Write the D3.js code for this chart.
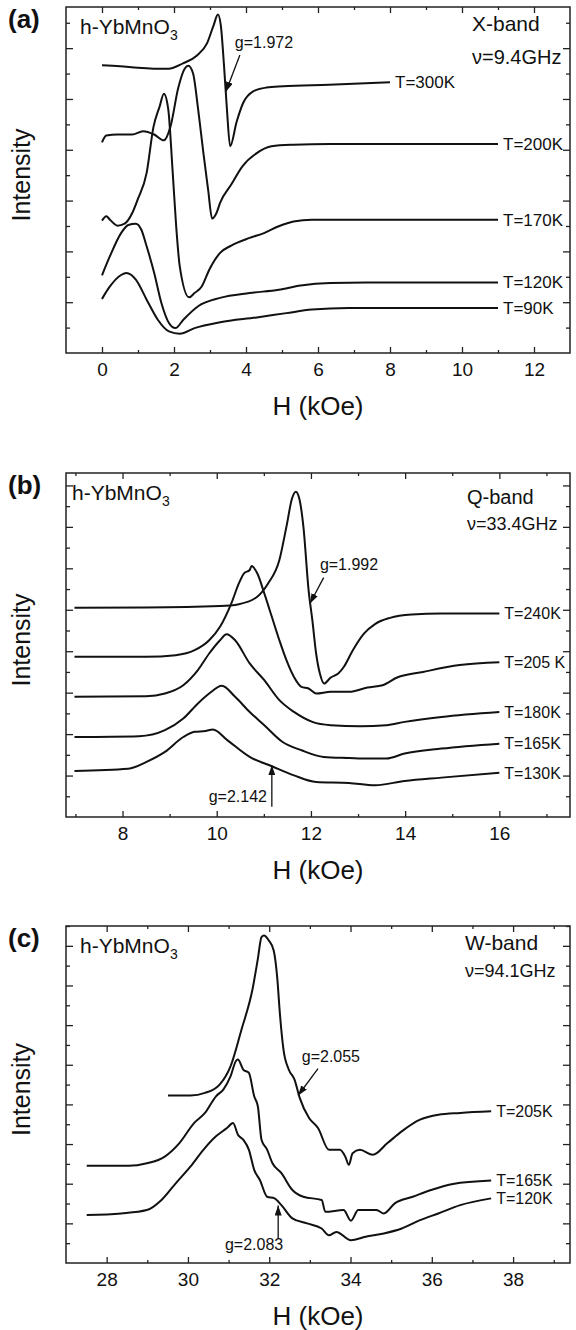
<!DOCTYPE html>
<html>
<head>
<meta charset="utf-8">
<script src="https://cdn.jsdelivr.net/npm/d3@7"></script>
<style>
body { margin: 0; background: #fff; }
svg text { font-family: "Liberation Sans", Arial, Helvetica, sans-serif; fill: #111; }
</style>
</head>
<body>
<svg id="fig" width="576" height="1330"></svg>
<script>
// ---- (a) X-band, H in kOe, intensity in arbitrary units (1 unit = 1 tick)
var xb300 = [[0,11.33],[0.5,11.29],[1,11.23],[1.5,11.19],[1.85,11.19],[2.25,11.4],[2.63,11.7],[2.92,12.2],[3.1,12.9],[3.22,13.32],[3.3,12.9],[3.39,11.3],[3.47,9.6],[3.56,8.14],[3.74,9.1],[3.92,9.84],[4.2,10.3],[4.57,10.45],[5.03,10.5],[6.3,10.56],[8,10.66]];
var xb200 = [[0,8.29],[0.12,8.56],[0.43,8.6],[0.84,8.6],[1.14,8.73],[1.45,8.6],[1.72,8.37],[1.9,8.9],[2.12,10.45],[2.3,11.2],[2.4,11.31],[2.53,11.0],[2.67,9.6],[2.81,7.95],[2.95,6.4],[3.06,5.29],[3.18,5.51],[3.28,5.91],[3.59,6.63],[3.9,7.35],[4.3,7.87],[4.71,8.14],[5.32,8.2],[6.34,8.23],[11,8.23]];
var xb170 = [[0,5.21],[0.12,5.38],[0.22,5.25],[0.43,5.01],[0.63,5.09],[0.84,5.51],[0.99,6.04],[1.24,7.09],[1.43,8.9],[1.6,9.7],[1.72,10.21],[1.84,9.6],[1.96,7.2],[2.06,5.0],[2.16,3.41],[2.42,2.19],[2.57,2.36],[2.77,2.62],[2.98,3.28],[3.28,3.94],[3.59,4.23],[4.1,4.53],[4.5,4.72],[4.91,4.99],[5.32,5.18],[5.83,5.25],[11,5.25]];
var xb120 = [[0,3.06],[0.22,3.81],[0.53,4.72],[0.73,5.04],[0.94,5.09],[1.09,4.86],[1.24,4.2],[1.45,3.15],[1.65,1.97],[1.86,1.18],[2.04,0.98],[2.26,1.31],[2.67,1.84],[3.28,2.17],[4.1,2.36],[4.91,2.49],[5.52,2.66],[6.34,2.76],[7.36,2.78],[11,2.78]];
var xb90 = [[0,2.13],[0.22,2.62],[0.53,3.07],[0.68,3.15],[0.94,2.89],[1.24,2.1],[1.55,1.31],[1.86,0.85],[2.16,0.76],[2.57,0.98],[3.28,1.21],[4.3,1.4],[5.12,1.57],[5.83,1.71],[6.85,1.77],[11,1.77]];
var xbLabels = ["T=300K","T=200K","T=170K","T=120K","T=90K"];

// ---- (b) Q-band
var qb240 = [[6.98,10.1],[8.5,10.11],[10.07,10.18],[10.47,10.27],[10.86,10.63],[11.09,11.27],[11.33,12.4],[11.48,14.01],[11.6,15.38],[11.68,15.7],[11.76,15.3],[11.84,14.01],[11.95,10.95],[12.03,9.5],[12.11,7.89],[12.19,6.92],[12.28,6.44],[12.42,6.73],[12.58,6.92],[12.7,7.25],[12.89,8.05],[13.13,8.86],[13.36,9.31],[13.68,9.61],[14.14,9.77],[14.77,9.82],[16,9.82]];
var qb205 = [[6.98,7.73],[8.5,7.73],[9.13,7.81],[9.53,8.05],[9.84,8.53],[10.07,9.18],[10.31,10.31],[10.47,11.27],[10.58,11.76],[10.7,11.92],[10.74,12.11],[10.86,11.76],[11.01,10.79],[11.17,9.66],[11.33,8.53],[11.48,7.57],[11.64,6.76],[11.8,6.28],[11.95,6.2],[12.11,5.96],[12.42,6.04],[12.81,6.04],[13.2,6.25],[13.52,6.36],[13.83,6.73],[14.38,7.0],[15.16,7.33],[16,7.47]];
var qb180 = [[6.98,5.8],[8.5,5.83],[8.9,5.96],[9.29,6.36],[9.6,7.09],[9.84,7.89],[10.07,8.53],[10.21,8.82],[10.39,8.53],[10.7,7.41],[11.01,6.6],[11.33,5.64],[11.64,5.07],[12.03,4.59],[12.42,4.43],[13.05,4.38],[13.6,4.43],[13.99,4.59],[14.77,4.83],[16,5.07]];
var qb165 = [[6.98,3.86],[8.35,3.9],[8.9,4.19],[9.29,4.75],[9.6,5.48],[9.84,5.96],[10.11,6.33],[10.39,5.8],[10.7,5.07],[11.01,4.43],[11.4,3.62],[11.8,3.22],[12.27,2.9],[12.81,2.85],[13.2,2.82],[13.6,2.82],[13.99,3.06],[14.77,3.3],[16,3.54]];
var qb130 = [[6.98,2.22],[8.12,2.33],[8.51,2.66],[8.9,3.14],[9.29,3.86],[9.53,4.11],[9.76,4.15],[9.92,4.22],[10.23,3.7],[10.7,2.9],[11.17,2.45],[11.64,2.01],[12.11,1.69],[12.81,1.64],[13.36,1.53],[13.99,1.74],[14.77,1.9],[16,2.13]];
var qbLabels = ["T=240K","T=205 K","T=180K","T=165K","T=130K"];

// ---- (c) W-band
var wb205 = [[29.51,8.45],[30.06,8.45],[30.42,8.58],[30.78,9.0],[31.05,9.93],[31.32,11.79],[31.59,13.82],[31.72,15.34],[31.81,16.44],[31.87,16.52],[31.99,16.27],[32.11,15.76],[32.2,14.32],[32.26,12.64],[32.35,10.78],[32.48,9.76],[32.62,9.26],[32.75,8.33],[32.98,7.31],[33.2,6.81],[33.47,5.71],[33.74,5.71],[33.87,5.37],[33.96,4.95],[34.05,5.54],[34.23,5.71],[34.55,5.46],[34.91,6.05],[35.26,6.64],[35.71,7.23],[36.16,7.48],[36.7,7.57],[37.46,7.65]];
var wb165 = [[27.51,4.9],[28.54,4.9],[28.99,5.03],[29.43,5.37],[29.79,6.05],[30.15,7.06],[30.42,7.57],[30.69,8.41],[30.87,8.75],[31.05,9.43],[31.18,10.19],[31.23,10.27],[31.36,9.76],[31.5,9.59],[31.63,8.41],[31.72,7.91],[31.81,6.22],[31.95,5.71],[32.08,5.03],[32.3,4.53],[32.57,3.68],[32.84,3.34],[33.29,3.18],[33.38,2.58],[33.83,2.67],[34.01,2.13],[34.19,2.67],[34.64,2.67],[34.82,2.5],[35.09,3.01],[35.53,3.34],[35.98,3.68],[36.52,3.99],[37.46,4.16]];
var wb120 = [[27.51,2.42],[28.36,2.5],[28.99,2.67],[29.35,3.18],[29.7,4.02],[30.06,4.86],[30.38,5.71],[30.69,6.39],[30.96,6.81],[31.11,7.06],[31.23,6.47],[31.36,6.22],[31.5,5.71],[31.63,4.7],[31.77,4.19],[31.95,3.34],[32.13,3.26],[32.3,2.92],[32.57,2.25],[32.93,2.0],[33.29,1.74],[33.47,1.4],[33.65,1.57],[34.01,1.15],[34.37,1.32],[34.82,1.49],[35.26,1.74],[35.71,2.16],[36.16,2.5],[36.7,2.92],[37.46,3.26]];
var wbLabels = ["T=205K","T=165K","T=120K"];

var font = "'Liberation Sans', Arial, Helvetica, sans-serif";
var frameL = 66, frameR = 570;
var svg = d3.select("#fig");

svg.append("defs").append("marker")
    .attr("id", "head")
    .attr("markerUnits", "userSpaceOnUse")
    .attr("markerWidth", 11).attr("markerHeight", 7)
    .attr("refX", 10).attr("refY", 3.5)
    .attr("orient", "auto")
  .append("path")
    .attr("d", "M0,0 L10,3.5 L0,7 Z")
    .attr("fill", "#111");

var panels = [
  { tag: "(a)", top: 7, bottom: 353, xDom: [-1, 13], yMax: 13.62,
    xMajor: d3.range(0, 13, 2), xMinor: d3.range(1, 13, 2),
    series: [xb300, xb200, xb170, xb120, xb90], labels: xbLabels, labelSize: 17,
    band: "X-band", freq: "\u03bd=9.4GHz", bandSize: 21, freqSize: 20, bandY: 31, freqY: 64, bandX: 472, sampleX: 80,
    notes: [ { text: "g=1.972", tx: 3.69, ty: 12.0, from: [3.83, 11.73], to: [3.44, 10.28] } ] },
  { tag: "(b)", top: 473, bottom: 817, xDom: [6.8, 17.5], yMax: 16.6,
    xMajor: d3.range(8, 17, 2), xMinor: d3.range(7, 18, 2),
    series: [qb240, qb205, qb180, qb165, qb130], labels: qbLabels, labelSize: 16,
    band: "Q-band", freq: "\u03bd=33.4GHz", bandSize: 20, freqSize: 18, bandY: 504, freqY: 530, bandX: 467, sampleX: 72,
    notes: [ { text: "g=1.992", tx: 12.19, ty: 11.93, from: [12.27, 11.55], to: [11.98, 10.3] },
             { text: "g=2.142", tx: 9.83, ty: 0.72, from: [11.17, 0.5], to: [11.17, 2.5] } ] },
  { tag: "(c)", top: 926, bottom: 1263, xDom: [27, 39.4], yMax: 17,
    xMajor: d3.range(28, 39, 2), xMinor: d3.range(29, 40, 2),
    series: [wb205, wb165, wb120], labels: wbLabels, labelSize: 16,
    band: "W-band", freq: "\u03bd=94.1GHz", bandSize: 21, freqSize: 18, bandY: 950, freqY: 977, bandX: 465, sampleX: 80,
    notes: [ { text: "g=2.055", tx: 32.8, ty: 10.15, from: [33.2, 9.8], to: [32.71, 8.45] },
             { text: "g=2.083", tx: 30.91, ty: 0.66, from: [32.22, 1.25], to: [32.22, 2.9] } ] }
];

panels.forEach(drawPanel);

function drawPanel(p) {
  var x = d3.scaleLinear().domain(p.xDom).range([frameL, frameR]);
  var y = d3.scaleLinear().domain([0, p.yMax]).range([p.bottom, p.top]);
  var g = svg.append("g");

  var yTicks = d3.range(1, Math.floor(p.yMax) + 1);
  var yMaj = yTicks.filter(function(d) { return d % 2 == 0; });
  var yMin = yTicks.filter(function(d) { return d % 2 == 1; });

  g.append("g").attr("transform", "translate(0," + p.bottom + ")")
      .call(d3.axisBottom(x).tickValues(p.xMinor).tickSize(-3).tickFormat(""));
  g.append("g").attr("transform", "translate(0," + p.top + ")")
      .call(d3.axisTop(x).tickValues(p.xMinor).tickSize(-3).tickFormat(""));
  g.append("g").attr("transform", "translate(0," + p.top + ")")
      .call(d3.axisTop(x).tickValues(p.xMajor).tickSize(-6).tickFormat(""));
  g.append("g").attr("class", "xaxis").attr("transform", "translate(0," + p.bottom + ")")
      .call(d3.axisBottom(x).tickValues(p.xMajor).tickSize(-6).tickPadding(10));

  g.append("g").attr("transform", "translate(" + frameL + ",0)")
      .call(d3.axisLeft(y).tickValues(yMaj).tickSize(-7).tickFormat(""));
  g.append("g").attr("transform", "translate(" + frameL + ",0)")
      .call(d3.axisLeft(y).tickValues(yMin).tickSize(-4).tickFormat(""));
  g.append("g").attr("transform", "translate(" + frameR + ",0)")
      .call(d3.axisRight(y).tickValues(yMaj).tickSize(-7).tickFormat(""));
  g.append("g").attr("transform", "translate(" + frameR + ",0)")
      .call(d3.axisRight(y).tickValues(yMin).tickSize(-4).tickFormat(""));

  g.selectAll(".domain").remove();
  g.selectAll(".tick line").attr("stroke", "#222").attr("stroke-width", 1.3);
  g.selectAll(".xaxis text")
      .attr("font-family", font).attr("font-size", 19).attr("fill", "#111");

  g.append("rect")
      .attr("x", frameL).attr("y", p.top)
      .attr("width", frameR - frameL).attr("height", p.bottom - p.top)
      .attr("fill", "none").attr("stroke", "#222").attr("stroke-width", 1.5);

  var line = d3.line()
      .x(function(d) { return x(d[0]); })
      .y(function(d) { return y(d[1]); })
      .curve(d3.curveMonotoneX);

  g.selectAll(".curve")
      .data(p.series)
    .enter().append("path")
      .attr("class", "curve")
      .attr("d", line)
      .attr("fill", "none")
      .attr("stroke", "#111")
      .attr("stroke-width", 2)
      .attr("stroke-linejoin", "round");

  g.selectAll(".tlabel")
      .data(p.series)
    .enter().append("text")
      .attr("class", "tlabel")
      .attr("x", function(d) { return x(d[d.length - 1][0]) + 5; })
      .attr("y", function(d) { return y(d[d.length - 1][1]); })
      .attr("dy", "0.36em")
      .attr("font-size", p.labelSize)
      .text(function(d, i) { return p.labels[i]; });

  p.notes.forEach(function(n) {
    g.append("line")
        .attr("x1", x(n.from[0])).attr("y1", y(n.from[1]))
        .attr("x2", x(n.to[0])).attr("y2", y(n.to[1]))
        .attr("stroke", "#111").attr("stroke-width", 1.3)
        .attr("marker-end", "url(#head)");
    g.append("text")
        .attr("x", x(n.tx)).attr("y", y(n.ty))
        .attr("font-size", 16)
        .text(n.text);
  });

  // panel tag, sample, band
  g.append("text")
      .attr("x", 8).attr("y", p.top + 21)
      .attr("font-size", 26).attr("font-weight", "bold")
      .text(p.tag);

  var s = g.append("text")
      .attr("x", p.sampleX).attr("y", p.top + 27)
      .attr("font-size", 21);
  s.append("tspan").text("h-YbMnO");
  s.append("tspan").attr("font-size", 14).attr("dy", 6).text("3");

  g.append("text").attr("x", p.bandX).attr("y", p.bandY)
      .attr("font-size", p.bandSize).text(p.band);
  g.append("text").attr("x", p.bandX).attr("y", p.freqY)
      .attr("font-size", p.freqSize).text(p.freq);

  g.append("text")
      .attr("transform", "translate(30," + ((p.top + p.bottom) / 2 - 5) + ") rotate(-90)")
      .attr("text-anchor", "middle")
      .attr("font-size", 25)
      .text("Intensity");

  g.append("text")
      .attr("x", (frameL + frameR) / 2).attr("y", p.bottom + 62)
      .attr("text-anchor", "middle")
      .attr("font-size", 26)
      .text("H (kOe)");
}
</script>
</body>
</html>
